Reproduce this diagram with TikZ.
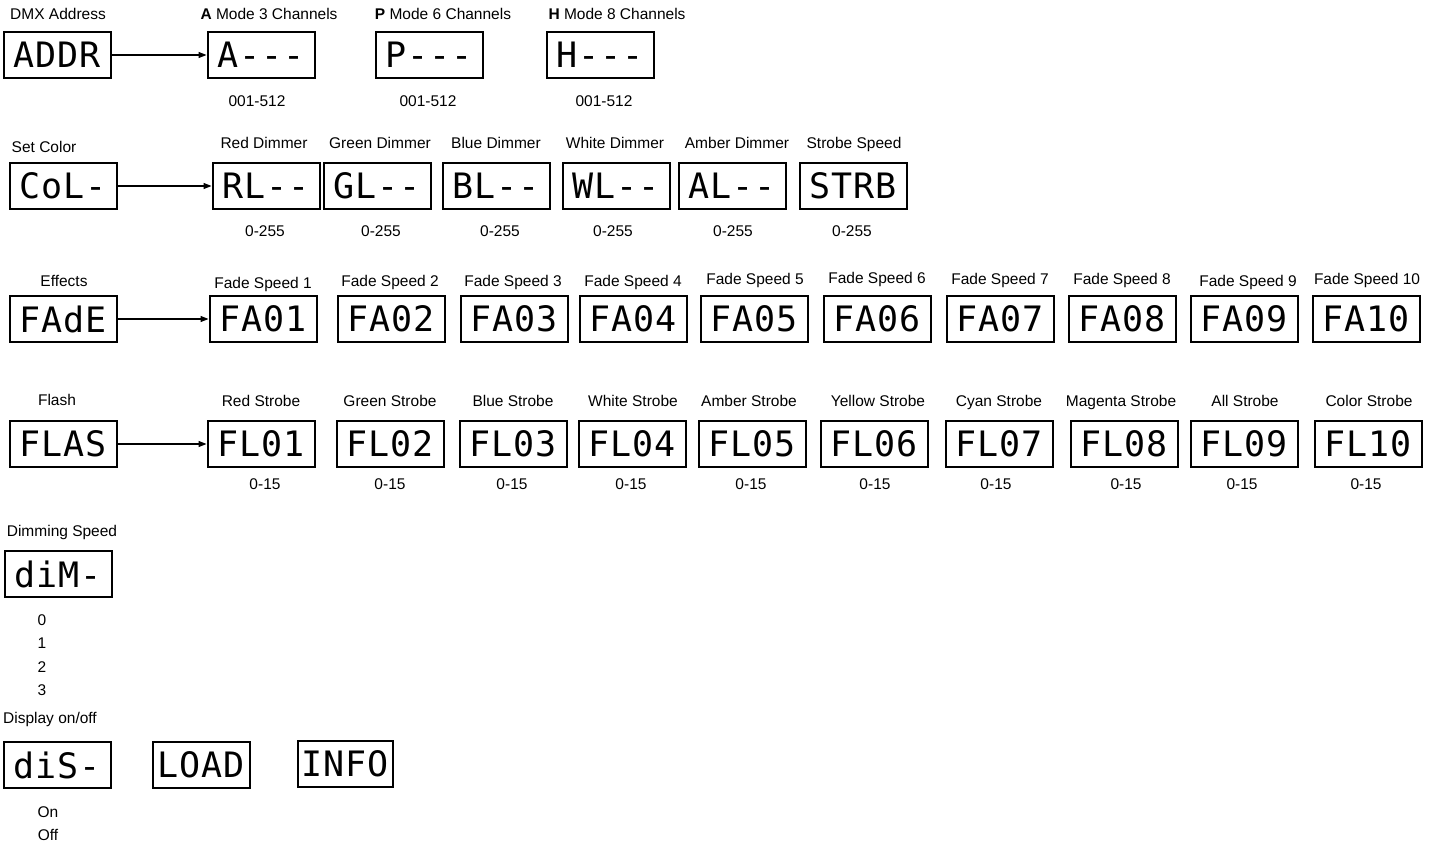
\documentclass[tikz,border=0pt]{standalone}
\usepackage{fontspec}
\setmainfont{Liberation Sans}
\newfontfamily\lcdfont[LetterSpace=3]{DejaVu Sans Mono}
\usetikzlibrary{arrows.meta}

\begin{document}
\begin{tikzpicture}[x=1pt, y=-1pt,
  lcd/.style={draw, line width=2pt, minimum width=107pt, minimum height=46pt, inner sep=0pt, font={\lcdfont\fontsize{35}{38}\selectfont}},
  lbl/.style={inner sep=0pt, text height=11pt, text depth=3pt, font={\fontsize{15.5}{18}\selectfont}},
  arr/.style={-{Triangle[length=8pt, width=6pt]}, line width=1.1pt}]
  \useasboundingbox (0,0) rectangle (1438,846);

  % DMX address
  \node[lbl] (tdmx) at (58,15) {DMX Address};
  \node[lcd] (addr) at (57,55) {ADDR};
  \foreach \n/\t/\x/\tx/\vx/\m in {a/A/261/269/257/3, p/P/429/443/428/6, h/H/600/617/604/8} {
    \node[lcd] (\n) at (\x,55) {\t---};
    \node[lbl] (t\n) at (\tx,15) {\textbf{\t} Mode \m\ Channels};
    \node[lbl] (v\n) at (\vx,102) {001-512};
  }
  \draw[arr] (addr) -- (a);

  % set color
  \node[lbl] (tcol) at (44,148) {Set Color};
  \node[lcd] (col) at (63,186) {CoL-};
  \foreach \n/\t/\x/\tt/\tx/\vx [count=\i] in {rl/RL--/266/Red Dimmer/264/265, gl/GL--/377/Green Dimmer/380/381,
      bl/BL--/496/Blue Dimmer/496/500, wl/WL--/616/White Dimmer/615/613, al/AL--/732/Amber Dimmer/737/733,
      strb/STRB/853/Strobe Speed/854/852} {
    \node[lcd] (\n) at (\x,186) {\t};
    \node[lbl] (t\n) at (\tx,144) {\tt};
    \node[lbl] (v\n) at (\vx,232) {0-255};
  }
  \draw[arr] (col) -- (rl);

  % effects
  \node[lbl] (tfade) at (64,282) {Effects};
  \node[lcd] (fade) at (63,319) {FAdE};
  \foreach \t/\x/\tx/\ty [count=\i] in {FA01/263/263/284, FA02/391/390/282, FA03/514/513/282, FA04/633/633/282,
      FA05/754/755/280, FA06/877/877/279, FA07/1000/1000/280, FA08/1122/1122/280, FA09/1244/1248/282, FA10/1366/1367/280} {
    \node[lcd] (fa\i) at (\x,319) {\t};
    \node[lbl] (tfa\i) at (\tx,\ty) {Fade Speed \i};
  }
  \draw[arr] (fade) -- (fa1);

  % flash
  \node[lbl] (tflas) at (57,401) {Flash};
  \node[lcd] (flas) at (63,444) {FLAS};
  \foreach \t/\x/\tt/\tx/\vx [count=\i] in {FL01/261/Red/261/265, FL02/390/Green/390/390, FL03/513/Blue/513/512,
      FL04/632/White/633/631, FL05/752/Amber/749/751, FL06/874/Yellow/878/875, FL07/999/Cyan/999/996,
      FL08/1124/Magenta/1121/1126, FL09/1244/All/1245/1242, FL10/1368/Color/1369/1366} {
    \node[lcd] (fl\i) at (\x,444) {\t};
    \node[lbl] (tfl\i) at (\tx,402) {\tt\ Strobe};
    \node[lbl] (vfl\i) at (\vx,485) {0-15};
  }
  \draw[arr] (flas) -- (fl1);

  % dimming speed
  \node[lbl] (tdim) at (62,532) {Dimming Speed};
  \node[lcd] (dim) at (58,574) {diM-};
  \foreach \v/\y in {0/621, 1/644, 2/668, 3/691}
    \node[lbl] (vdim\v) at (42,\y) {\v};

  % display on/off
  \node[lbl] (tdis) at (50,719) {Display on/off};
  \node[lcd] (dis) at (57,765) {diS-};
  \node[lcd, minimum width=97pt] (load) at (201,765) {LOAD};
  \node[lcd, minimum width=95pt] (info) at (345,764) {INFO};
  \node[lbl] (von) at (48,813) {On};
  \node[lbl] (voff) at (48,836) {Off};
\end{tikzpicture}
\end{document}
